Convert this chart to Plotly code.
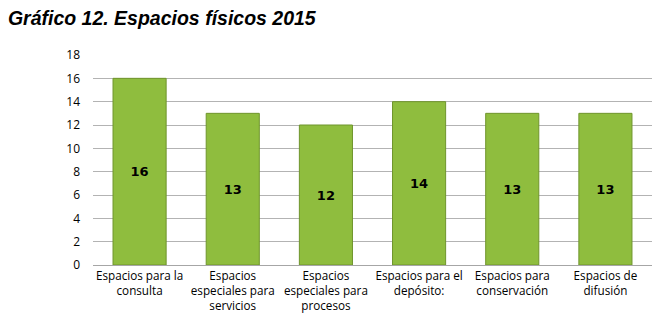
import plotly.graph_objects as go

categories = [
    "Espacios para la<br>consulta",
    "Espacios<br>especiales para<br>servicios",
    "Espacios<br>especiales para<br>procesos",
    "Espacios para el<br>depósito:",
    "Espacios para<br>conservación",
    "Espacios de<br>difusión",
]
values = [16, 13, 12, 14, 13, 13]
y_ticks = [0, 2, 4, 6, 8, 10, 12, 14, 16, 18]

fig = go.Figure()
fig.add_trace(go.Bar(
    x=categories,
    y=values,
    width=0.57,
    marker=dict(color="#8fbd3e", line=dict(color="#6f952c", width=1)),
    text=[str(v) for v in values],
    textposition="inside",
    insidetextanchor="middle",
    textfont=dict(family="DejaVu Sans", size=13, color="#000000"),
    texttemplate="<b>%{text}</b>",
    showlegend=False,
))

fig.update_layout(
    width=657, height=322,
    margin=dict(l=93, r=5, t=55, b=57),
    paper_bgcolor="white",
    plot_bgcolor="white",
    title=dict(
        text="<b><i>Gráfico 12. Espacios físicos 2015</i></b>",
        x=0.012, xanchor="left", y=0.945, yanchor="middle",
        font=dict(family="Liberation Sans", size=19.5, color="#000000"),
    ),
    bargap=0.43,
    xaxis=dict(
        showline=True, linecolor="#a6a6a6", linewidth=1,
        ticks="", tickfont=dict(family="Open Sans", size=11.7, color="#000000"),
        tickangle=0,
    ),
    yaxis=dict(
        range=[0, 18], tickvals=y_ticks,
        showgrid=True, gridcolor="#b3b3b3", gridwidth=1,
        zeroline=False, showline=False,
        tickfont=dict(family="Open Sans", size=12, color="#000000"),
        ticks="", ticklen=0, ticklabelstandoff=12,
    ),
)

fig.write_html("out.html")
